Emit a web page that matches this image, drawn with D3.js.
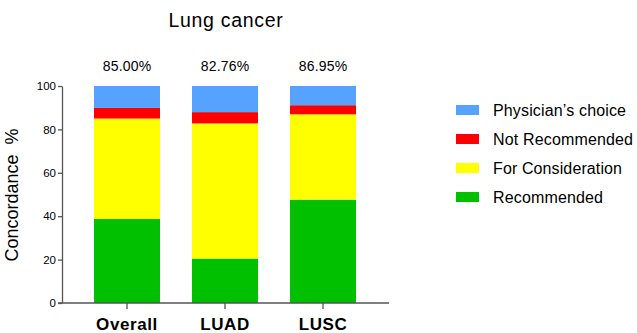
<!DOCTYPE html>
<html><head><meta charset="utf-8">
<script src="https://cdn.jsdelivr.net/npm/d3@7"></script>
<style>body{margin:0;background:#fff}svg{display:block;font-family:Arial,"Liberation Sans",sans-serif}</style>
</head><body><svg id="c" width="637" height="333"></svg>
<script>
const categories = ["Overall", "LUAD", "LUSC"];
const seriesNames = ["Recommended", "For Consideration", "Not Recommended", "Physician\u2019s choice"];
const recommended = [38.7, 20.5, 47.6];
const forConsideration = [46.3, 62.26, 39.35];
const notRecommended = [4.9, 5.2, 4.2];
const physiciansChoice = [10.1, 12.04, 8.85];
const concordanceLabels = ["85.00%", "82.76%", "86.95%"];
const yTicks = [0, 20, 40, 60, 80, 100];
const colors = ["#00c000", "#ffff00", "#ff0000", "#56a2ff"];

const svg = d3.select("#c");
const y = d3.scaleLinear().domain([0, 100]).range([303, 86]);
const x = d3.scaleBand().domain(categories).range([78, 372]).paddingInner(32 / 98).paddingOuter(16 / 98);

const rows = categories.map((c, i) => ({cat: c, Recommended: recommended[i], "For Consideration": forConsideration[i], "Not Recommended": notRecommended[i], "Physician\u2019s choice": physiciansChoice[i]}));
const stack = d3.stack().keys(seriesNames)(rows);

svg.append("g").selectAll("g").data(stack).join("g")
  .attr("fill", (d, i) => colors[i])
  .selectAll("rect").data(d => d).join("rect")
  .attr("x", d => x(d.data.cat)).attr("width", x.bandwidth())
  .attr("y", d => y(d[1])).attr("height", d => y(d[0]) - y(d[1]));

// y axis
const ya = svg.append("g").attr("transform", "translate(62,0)")
  .call(d3.axisLeft(y).tickValues(yTicks).tickSize(4).tickSizeOuter(0));
ya.select(".domain").attr("stroke", "#555").attr("stroke-width", 1.3);
ya.selectAll(".tick line").attr("stroke", "#555").attr("stroke-width", 1.3);
ya.selectAll("text").attr("font-size", 11.5).attr("fill", "#000").attr("x", -6).attr("font-family", "Arial, 'Liberation Sans', sans-serif");

// x axis
svg.append("line").attr("x1", 58).attr("x2", 389).attr("y1", 303).attr("y2", 303).attr("stroke", "#555").attr("stroke-width", 1.3);
const xa = svg.append("g").attr("transform", "translate(0,303)")
  .call(d3.axisBottom(x).tickSize(6).tickSizeOuter(0));
xa.select(".domain").remove();
xa.selectAll(".tick line").attr("stroke", "#555").attr("stroke-width", 1.3);
xa.selectAll("text").attr("font-size", 17).attr("font-weight", "bold").attr("fill", "#000").attr("dy", 0).attr("y", 27)
  .attr("letter-spacing", 0.6).attr("font-family", "Arial, 'Liberation Sans', sans-serif");

// concordance labels
svg.append("g").selectAll("text").data(categories).join("text")
  .attr("x", d => x(d) + x.bandwidth() / 2).attr("y", 71)
  .attr("text-anchor", "middle").attr("font-size", 14).attr("letter-spacing", 0.2).text((d, i) => concordanceLabels[i]);

// title
svg.append("text").attr("x", 226).attr("y", 27).attr("text-anchor", "middle").attr("font-size", 19.5)
  .attr("letter-spacing", 0.7).text("Lung cancer");

// y title
svg.append("text").attr("transform", "translate(18,195) rotate(-90)").attr("text-anchor", "middle")
  .attr("font-size", 18).attr("xml:space", "preserve").style("white-space", "pre").text("Concordance  %");

// legend
const legendOrder = [3, 2, 1, 0];
const legendWidths = {3: 133, 2: 140, 1: 129, 0: 110};
const lg = svg.append("g").selectAll("g").data(legendOrder).join("g")
  .attr("transform", (d, i) => `translate(456,${110 + i * 29})`);
lg.append("rect").attr("x", 0).attr("y", -5).attr("width", 23).attr("height", 10).attr("fill", d => colors[d]);
lg.append("text").attr("x", 37).attr("y", 6).attr("font-size", 16)
  .attr("textLength", d => legendWidths[d]).attr("lengthAdjust", "spacing").text(d => seriesNames[d]);
</script></body></html>
